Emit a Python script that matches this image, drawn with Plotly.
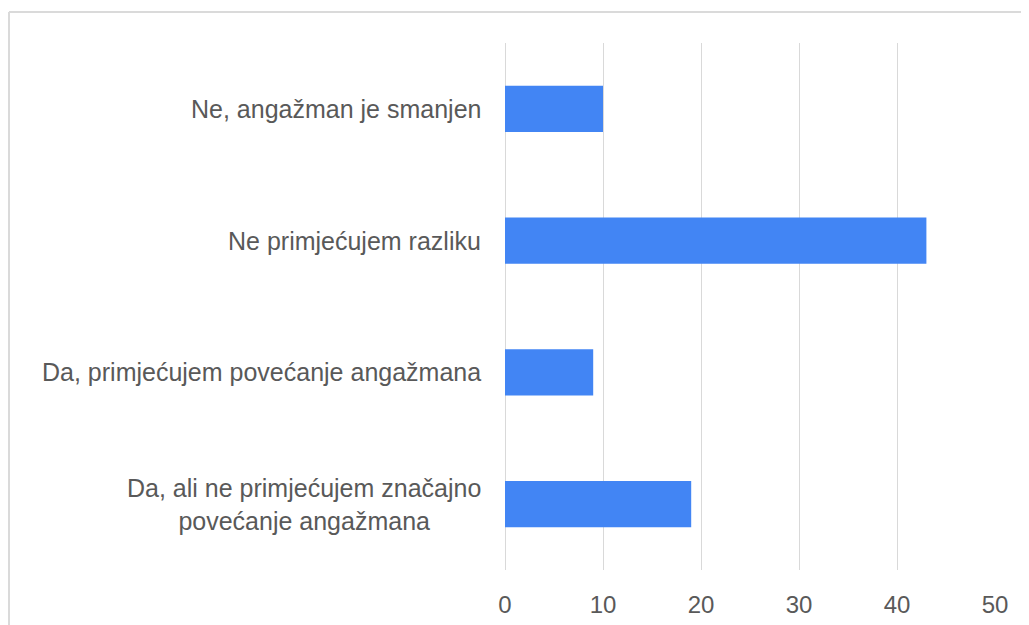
import plotly.graph_objects as go

categories = [
    "Da, ali ne primjećujem značajno<br>povećanje angažmana",
    "Da, primjećujem povećanje angažmana",
    "Ne primjećujem razliku",
    "Ne, angažman je smanjen",
]
values = [19, 9, 43, 10]
x_ticks = [0, 10, 20, 30, 40, 50]

# page has an 8px body margin; figure coordinates below are relative to the figure
W, H = 1029, 625
L, R, T, B = 497, 42, 35, 63
pw, ph = W - L - R, H - T - B

bar_color = "#4285F4"
text_color = "#595959"
grid_color = "#D9D9D9"
font_family = "Liberation Sans, Arial, sans-serif"

fig = go.Figure(
    go.Bar(
        x=values,
        y=categories,
        orientation="h",
        marker=dict(color=bar_color, line=dict(width=0)),
        width=0.35,
        hoverinfo="x+y",
    )
)

annotations = [
    dict(
        x=0, xref="paper", y=c, yref="y",
        text=c, showarrow=False, xanchor="right", yanchor="middle",
        xshift=-22, align="center",
        font=dict(size=25, color=text_color, family=font_family),
    )
    for c in categories
]

# outer chart border (top and left edges visible)
bx = (1 - L) / pw
by = 1 + (T - 4) / ph
shapes = [
    dict(type="line", xref="paper", yref="paper", x0=bx, x1=(W + 5 - L) / pw, y0=by, y1=by,
         line=dict(color="#DADADA", width=2)),
    dict(type="line", xref="paper", yref="paper", x0=bx, x1=bx, y0=by, y1=-(B + 5) / ph,
         line=dict(color="#DADADA", width=2)),
]

fig.update_layout(
    width=W, height=H,
    margin=dict(l=L, r=R, t=T, b=B),
    paper_bgcolor="white", plot_bgcolor="white",
    showlegend=False,
    annotations=annotations,
    shapes=shapes,
    font=dict(family=font_family, color=text_color),
    xaxis=dict(
        range=[0, 50], tickvals=x_ticks, showgrid=True, gridcolor=grid_color, gridwidth=1,
        zeroline=True, zerolinecolor=grid_color, zerolinewidth=1, showline=False,
        ticks="", tickfont=dict(size=24, color=text_color, family=font_family),
        ticklabelstandoff=18, fixedrange=True,
    ),
    yaxis=dict(
        categoryorder="array", categoryarray=categories, showticklabels=False,
        showgrid=False, zeroline=False, showline=False, ticks="", fixedrange=True,
        range=[-0.5, 3.5],
    ),
)

fig.write_html("out.html")
